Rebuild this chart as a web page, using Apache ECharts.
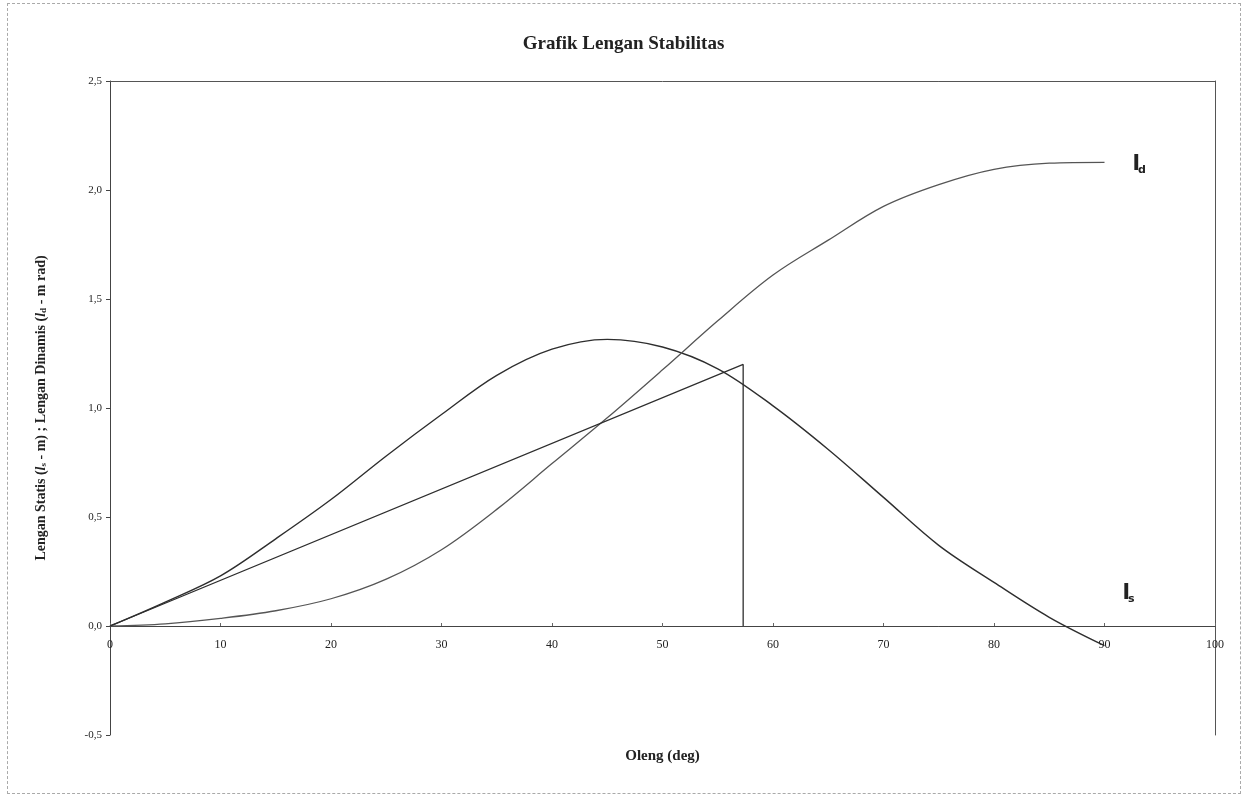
<!DOCTYPE html>
<html>
<head>
<meta charset="utf-8">
<script src="https://cdn.jsdelivr.net/npm/echarts@6/dist/echarts.min.js"></script>
<style>
  html, body { margin: 0; padding: 0; background: #fff; }
  #chart { width: 1247px; height: 798px; }
  #frame { position: absolute; left: 7px; top: 3px; width: 1232px; height: 789px;
           border: 1px dashed #aaa; pointer-events: none; }
</style>
</head>
<body>
<div id="chart"></div>
<div id="frame"></div>
<script>
// Heel angle (deg)
const degrees = [0, 5, 10, 15, 20, 25, 30, 35, 40, 45, 50, 55, 60, 65, 70, 75, 80, 85, 90];
// Static stability lever l_s (m)
const staticArm = [0, 0.11, 0.23, 0.40, 0.58, 0.78, 0.97, 1.15, 1.27, 1.315, 1.28, 1.18, 1.01, 0.81, 0.59, 0.37, 0.20, 0.04, -0.09];
// Dynamic stability lever l_d (m rad)
const dynamicArm = [0, 0.01, 0.035, 0.07, 0.125, 0.215, 0.35, 0.535, 0.745, 0.955, 1.175, 1.40, 1.61, 1.77, 1.925, 2.025, 2.095, 2.123, 2.127];
// GM tangent line drawn to 1 rad (57.3 deg)
const tangentX = [0, 57.3, 57.3];
const tangentY = [0, 1.2, 0];

const serif = '"Liberation Serif", "Times New Roman", serif';
const pair = (xs, ys) => xs.map((x, i) => [x, ys[i]]);

const chart = echarts.init(document.getElementById('chart'));
chart.setOption({
  backgroundColor: '#fff',
  animation: false,
  title: {
    text: 'Grafik Lengan Stabilitas',
    left: 'center', top: 30,
    textStyle: { fontFamily: serif, fontSize: 19, fontWeight: 'bold', color: '#222' }
  },
  grid: { left: 110, right: 32, top: 81, bottom: 63, containLabel: false, outerBoundsMode: 'none' },
  xAxis: [{
    type: 'value', min: 0, max: 100, interval: 10,
    position: 'bottom', offset: -109,
    name: 'Oleng (deg)', nameLocation: 'middle', nameGap: 123,
    nameTextStyle: { fontFamily: serif, fontSize: 15, fontWeight: 'bold', color: '#222' },
    axisLine: { onZero: false, lineStyle: { color: '#444', width: 1 } },
    axisTick: { show: true, inside: true, length: 3, lineStyle: { color: '#666' } },
    axisLabel: { fontFamily: serif, fontSize: 12, color: '#222', margin: 13 },
    splitLine: { show: false }
  }, {
    type: 'value', min: 0, max: 100, position: 'top',
    axisLine: { show: true, onZero: false, lineStyle: { color: '#555', width: 1 } },
    axisTick: { show: false }, axisLabel: { show: false }, splitLine: { show: false }
  }],
  yAxis: [{
    type: 'value', min: -0.5, max: 2.5, interval: 0.5,
    name: 'Lengan Statis ({i|l}{sub|s} - m) ; Lengan Dinamis ({i|l}{sub|d} - m rad)',
    nameLocation: 'middle', nameGap: 62, nameRotate: 90,
    nameTextStyle: {
      fontFamily: serif, fontSize: 14, fontWeight: 'bold', color: '#222',
      rich: {
        i: { fontFamily: serif, fontSize: 14, fontWeight: 'bold', fontStyle: 'italic', color: '#222' },
        sub: { fontFamily: serif, fontSize: 9, fontWeight: 'bold', color: '#222', padding: [5, 0, 0, 0] }
      }
    },
    axisLine: { show: true, onZero: false, lineStyle: { color: '#444', width: 1 } },
    axisTick: { show: true, length: 4, lineStyle: { color: '#444' } },
    axisLabel: {
      fontFamily: serif, fontSize: 11, color: '#222', margin: 8,
      formatter: v => v.toFixed(1).replace('.', ',')
    },
    splitLine: { show: false }
  }, {
    type: 'value', min: -0.5, max: 2.5, position: 'right',
    axisLine: { show: true, onZero: false, lineStyle: { color: '#555', width: 1 } },
    axisTick: { show: false }, axisLabel: { show: false }, splitLine: { show: false }
  }],
  series: [{
    name: 'ls', type: 'line', data: pair(degrees, staticArm),
    smooth: 0.35, showSymbol: false, symbol: 'none',
    lineStyle: { color: '#2e2e2e', width: 1.4 },
    endLabel: {
      show: true, offset: [10, -52],
      formatter: '{l|l}{s|s}',
      rich: {
        l: { fontFamily: '"DejaVu Sans", sans-serif', fontSize: 22, fontWeight: 'bold', color: '#222' },
        s: { fontFamily: '"DejaVu Sans", sans-serif', fontSize: 11, fontWeight: 'bold', color: '#222', padding: [12, 0, 0, -2] }
      }
    }
  }, {
    name: 'ld', type: 'line', data: pair(degrees, dynamicArm),
    smooth: 0.35, showSymbol: false, symbol: 'none',
    lineStyle: { color: '#555', width: 1.3 },
    endLabel: {
      show: true, distance: 28, offset: [0, 2],
      formatter: '{l|l}{s|d}',
      rich: {
        l: { fontFamily: '"DejaVu Sans", sans-serif', fontSize: 22, fontWeight: 'bold', color: '#222' },
        s: { fontFamily: '"DejaVu Sans", sans-serif', fontSize: 11, fontWeight: 'bold', color: '#222', padding: [12, 0, 0, -2] }
      }
    }
  }, {
    name: 'tangent', type: 'line', data: pair(tangentX, tangentY),
    showSymbol: false, symbol: 'none',
    lineStyle: { color: '#2e2e2e', width: 1.3 }
  }]
});
</script>
</body>
</html>
